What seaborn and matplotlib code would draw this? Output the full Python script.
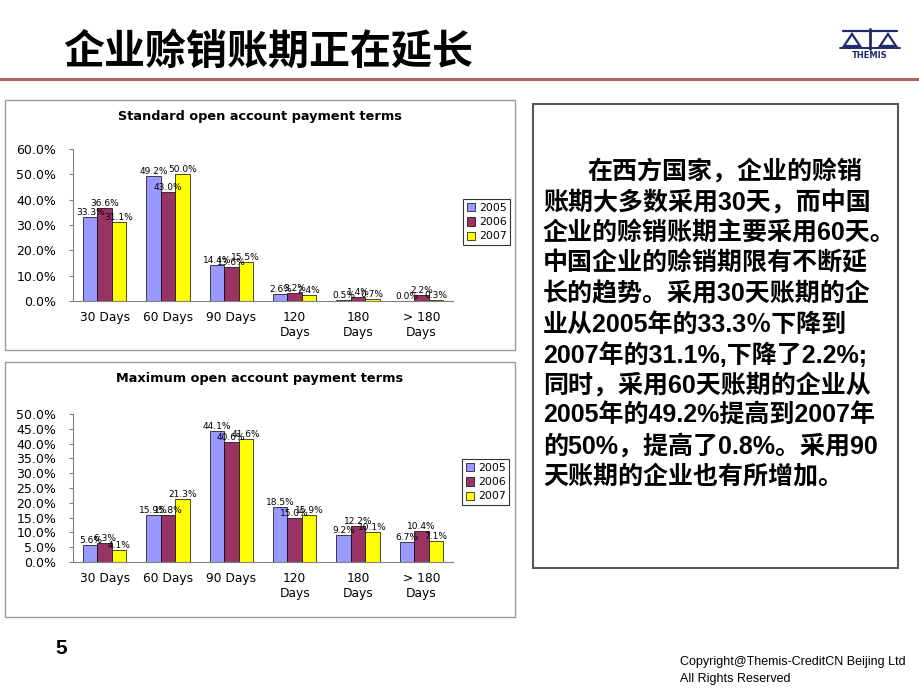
import pandas as pd
import seaborn as sns
import matplotlib.pyplot as plt
from matplotlib import font_manager
from matplotlib.patches import Rectangle, Polygon
from matplotlib.lines import Line2D

# data
terms = ["30 Days", "60 Days", "90 Days", "120\nDays", "180\nDays", "> 180\nDays"]
years = ["2005", "2006", "2007"]
standard_2005 = [33.3, 49.2, 14.4, 2.6, 0.5, 0.0]
standard_2006 = [36.6, 43.0, 13.6, 3.2, 1.4, 2.2]
standard_2007 = [31.1, 50.0, 15.5, 2.4, 0.7, 0.3]
maximum_2005 = [5.6, 15.9, 44.1, 18.5, 9.2, 6.7]
maximum_2006 = [6.3, 15.8, 40.6, 15.0, 12.2, 10.4]
maximum_2007 = [4.1, 21.3, 41.6, 15.9, 10.1, 7.1]
bar_colors = ["#9999FF", "#993366", "#FFFF00"]

slide_title = "企业赊销账期正在延长"
text_lines = [
    "在西方国家，企业的赊销",
    "账期大多数采用30天，而中国",
    "企业的赊销账期主要采用60天。",
    "中国企业的赊销期限有不断延",
    "长的趋势。采用30天账期的企",
    "业从2005年的33.3％下降到",
    "2007年的31.1%,下降了2.2%;",
    "同时，采用60天账期的企业从",
    "2005年的49.2%提高到2007年",
    "的50%，提高了0.8%。采用90",
    "天账期的企业也有所增加。",
]

sns.set_style("white")
plt.rcParams['font.family'] = ['DejaVu Sans', 'Noto Sans CJK SC']
plt.rcParams['text.color'] = 'black'
plt.rcParams['xtick.color'] = 'black'
plt.rcParams['ytick.color'] = 'black'
plt.rcParams['axes.labelcolor'] = 'black'

installed = {f.name for f in font_manager.fontManager.ttflist}
if "Liberation Sans Narrow" in installed:
    foot_font, foot_size = ["Liberation Sans Narrow"], 10
else:
    foot_font, foot_size = ["Liberation Sans"], 9

W, H = 920, 690
fig = plt.figure(figsize=(W / 100, H / 100), dpi=100)


def fx(x):
    return x / W


def fy(y):
    return 1 - y / H


def long_table(s05, s06, s07):
    rows = []
    for yr, vals in zip(years, [s05, s06, s07]):
        for t, v in zip(terms, vals):
            rows.append({"term": t, "year": yr, "pct": v})
    return pd.DataFrame(rows)


def draw_chart(box, axbox, title, df, ymax, ystep, legend_xy):
    # outer chart frame
    x0, y0, x1, y1 = box
    fig.patches.append(Rectangle((fx(x0), fy(y1)), fx(x1 - x0), (y1 - y0) / H,
                                 transform=fig.transFigure, fill=False,
                                 edgecolor="#9a9a9a", linewidth=1.0))
    fig.text(fx((x0 + x1) / 2), fy(y0 + 16.5), title, ha="center", va="center",
             fontsize=9.3, fontweight="bold")
    ax = fig.add_axes(axbox)
    sns.barplot(data=df, x="term", y="pct", hue="year", hue_order=years,
                order=terms, palette=bar_colors, width=0.68, edgecolor="black",
                linewidth=0.5, saturation=1, ax=ax, legend=True)
    for cont in ax.containers:
        ax.bar_label(cont, fmt="%.1f%%", fontsize=6.5, padding=0)
    ax.set_xlim(-0.5, 5.5)
    ax.set_ylim(0, ymax)
    yt = [i * ystep for i in range(int(round(ymax / ystep)) + 1)]
    ax.set_yticks(yt)
    ax.set_yticklabels([f"{v:.1f}%" for v in yt], fontsize=9)
    ax.set_xticks(range(len(terms)))
    ax.set_xticklabels(terms, fontsize=8.8)
    ax.set_xticks([i + 0.5 for i in range(-1, len(terms))], minor=True)
    ax.tick_params(axis="x", which="major", length=0, pad=7)
    ax.tick_params(axis="x", which="minor", length=3, direction="out", color="#808080")
    ax.tick_params(axis="y", length=3, direction="out", color="#808080", pad=9, left=True)
    ax.set_xlabel("")
    ax.set_ylabel("")
    sns.despine(ax=ax)
    for s in ["left", "bottom"]:
        ax.spines[s].set_color("#808080")
        ax.spines[s].set_linewidth(0.8)
    ax.legend(loc="upper left", bbox_to_anchor=legend_xy, bbox_transform=fig.transFigure,
              fontsize=7.8, frameon=True, fancybox=False, edgecolor="black",
              handlelength=0.8, handleheight=0.8, handletextpad=0.3,
              labelspacing=0.4, borderpad=0.35, borderaxespad=0)
    ax.get_legend().get_frame().set_linewidth(0.8)
    return ax


# slide header
fig.text(fx(63), fy(52), slide_title, fontsize=29.5, va="center", ha="left",
         family=["Noto Sans CJK SC"], fontweight="bold", color="black")
fig.add_artist(Line2D([0, 1], [fy(79), fy(79)], color="#b5615c", linewidth=2.2))

# rough THEMIS logo
navy = "#1f2a6b"
fig.add_artist(Line2D([fx(843), fx(897)], [fy(31), fy(31)], color=navy, linewidth=1.6))
fig.add_artist(Line2D([fx(870), fx(870)], [fy(29), fy(49)], color=navy, linewidth=2))
for cx in [852, 888]:
    fig.add_artist(Polygon([(fx(cx - 8), fy(46)), (fx(cx + 8), fy(46)), (fx(cx), fy(34))],
                           closed=True, fill=False, edgecolor=navy, linewidth=1.6,
                           transform=fig.transFigure))
fig.add_artist(Line2D([fx(840), fx(900)], [fy(48), fy(48)], color=navy, linewidth=1.4))
fig.text(fx(870), fy(56), "THEMIS", fontsize=6, fontweight="bold", color=navy,
         ha="center", va="center")

# charts
draw_chart((5, 100, 515, 350),
           [fx(73), fy(301), fx(453 - 73), (301 - 149) / H],
           "Standard open account payment terms",
           long_table(standard_2005, standard_2006, standard_2007),
           60, 10, (fx(463), fy(199)))
draw_chart((5, 362, 515, 617),
           [fx(73), fy(562), fx(453 - 73), (562 - 414) / H],
           "Maximum open account payment terms",
           long_table(maximum_2005, maximum_2006, maximum_2007),
           50, 5, (fx(462), fy(459)))

# text box on the right
fig.patches.append(Rectangle((fx(533), fy(568)), fx(898 - 533), (568 - 104) / H,
                             transform=fig.transFigure, fill=False,
                             edgecolor="#555555", linewidth=1.5))
for i, line in enumerate(text_lines):
    x = 587 if i == 0 else 543
    fig.text(fx(x), fy(172 + i * 30.5), line, fontsize=18, va="center", ha="left",
             family=["Liberation Sans", "Noto Sans CJK SC"], fontweight="bold")

# footer
fig.text(fx(55), fy(648), "5", fontsize=15, fontweight="bold", va="center",
         family=["Liberation Sans"])
fig.text(fx(680), fy(662), "Copyright@Themis-CreditCN Beijing Ltd", fontsize=foot_size,
         va="center", family=foot_font)
fig.text(fx(680), fy(679), "All Rights Reserved", fontsize=foot_size,
         va="center", family=foot_font)

fig.savefig("out.png", dpi=100)
